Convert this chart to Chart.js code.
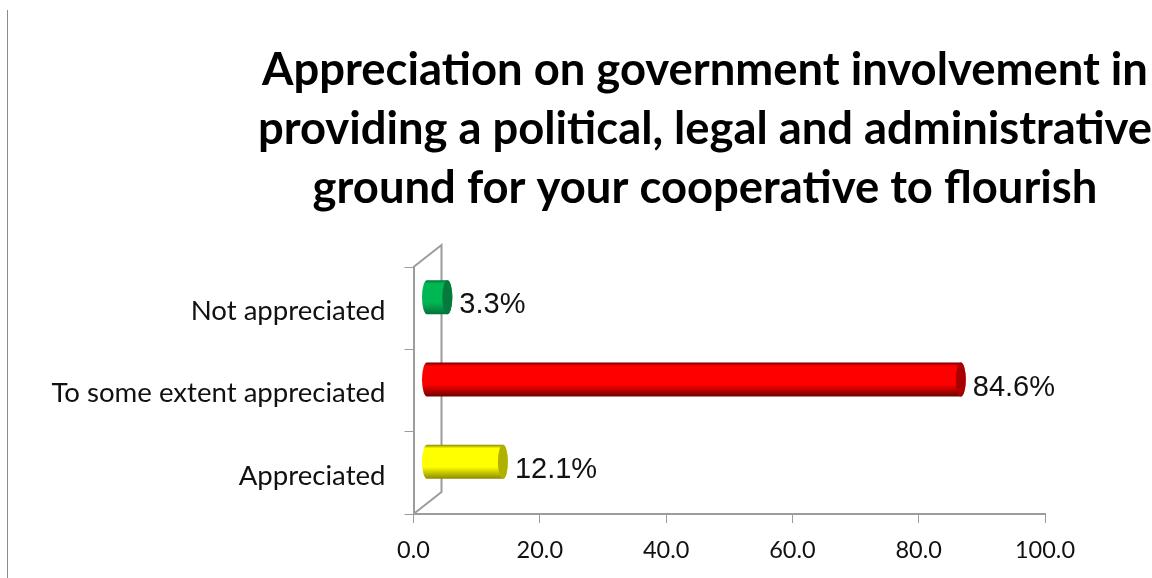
<!DOCTYPE html>
<html lang="en">
<head>
    <meta charset="UTF-8">
    <title>Appreciation on government involvement</title>
    <script src="https://cdn.jsdelivr.net/npm/chart.js"></script>
    <style>
        html, body { margin: 0; background: #fff; overflow: hidden; }
        #rule { position: absolute; left: 7px; top: 10px; width: 1px; height: 568px; background: #8c8c8c; }
        canvas { display: block; }
    </style>
</head>
<body>
    <div id="rule"></div>
    <canvas id="chart" width="1152" height="578"></canvas>

    <script>
        const categories = ['Not appreciated', 'To some extent appreciated', 'Appreciated'];
        const percentages = [3.3, 84.6, 12.1];
        const titleLines = [
            'Appreciation on government involvement in',
            'providing a political, legal and administrative',
            'ground for your cooperative to flourish'
        ];

        // body colour, then the darker end cap, per bar
        const barColors = ['#00b853', '#ff0000', '#ffff00'];
        const capColors = ['#067a3c', '#a80000', '#b0b000'];
        const edgeColors = ['#04713a', '#6e0000', '#8a8a00'];

        const axisColor = '#9c9c9c';
        const depthX = 28;   // floor depth of the 3D box
        const depthY = 22;

        // Title is centred over its own span rather than the whole canvas
        const titleSpan = {
            id: 'titleSpan',
            afterLayout(chart) {
                chart.titleBlock.left = 258;
                chart.titleBlock.right = 1152;
            }
        };

        // Back wall and floor edges of the 3D box
        const box = {
            id: 'box',
            beforeDatasetsDraw(chart) {
                const { ctx, chartArea: a } = chart;
                ctx.save();
                ctx.strokeStyle = axisColor;
                ctx.lineWidth = 2;
                ctx.beginPath();
                ctx.moveTo(a.left, a.top);
                ctx.lineTo(a.left + depthX, a.top - depthY);
                ctx.lineTo(a.left + depthX, a.bottom - depthY);
                ctx.lineTo(a.left, a.bottom);
                ctx.stroke();
                ctx.restore();
            }
        };

        // Bars are drawn as cylinders from the geometry Chart.js worked out
        const cylinders = {
            id: 'cylinders',
            beforeDatasetDraw() {
                return false;
            },
            afterDatasetsDraw(chart) {
                const { ctx } = chart;
                const meta = chart.getDatasetMeta(0);
                meta.data.forEach((bar, i) => {
                    const h = bar.height;
                    const top = bar.y - depthY / 2 - h / 2;
                    const start = bar.base + depthX / 2 - 1;
                    const end = bar.x + depthX / 2 - 1;
                    const rx = 5;
                    const cy = top + h / 2;

                    const grad = ctx.createLinearGradient(0, top, 0, top + h);
                    grad.addColorStop(0, edgeColors[i]);
                    grad.addColorStop(0.1, barColors[i]);
                    grad.addColorStop(0.65, barColors[i]);
                    grad.addColorStop(1, edgeColors[i]);

                    ctx.save();
                    ctx.fillStyle = grad;
                    ctx.beginPath();
                    ctx.ellipse(start, cy, rx, h / 2, 0, Math.PI / 2, Math.PI * 1.5);
                    ctx.lineTo(end, top);
                    ctx.ellipse(end, cy, rx, h / 2, 0, -Math.PI / 2, Math.PI / 2);
                    ctx.closePath();
                    ctx.fill();

                    ctx.fillStyle = capColors[i];
                    ctx.beginPath();
                    ctx.ellipse(end, cy, rx, h / 2, 0, 0, Math.PI * 2);
                    ctx.fill();

                    // value label
                    ctx.fillStyle = '#111';
                    ctx.font = '29px "Liberation Sans"';
                    ctx.textAlign = 'left';
                    ctx.textBaseline = 'middle';
                    ctx.fillText(percentages[i].toFixed(1) + '%', end + rx + 7, cy + 8);
                    ctx.restore();
                });
            }
        };

        new Chart(document.getElementById('chart').getContext('2d'), {
            type: 'bar',
            data: {
                labels: categories,
                datasets: [{
                    data: percentages,
                    backgroundColor: barColors,
                    barThickness: 34
                }]
            },
            options: {
                indexAxis: 'y',
                responsive: false,
                animation: false,
                layout: { padding: { right: 107, left: 0, top: 0, bottom: 0 } },
                plugins: {
                    legend: { display: false },
                    tooltip: { enabled: false },
                    title: {
                        display: true,
                        text: titleLines,
                        color: '#000',
                        font: { family: 'Lato', weight: 'bold', size: 45.4, lineHeight: 1.3 },
                        padding: { top: 41, bottom: 49 }
                    }
                },
                scales: {
                    x: {
                        min: 0,
                        max: 100,
                        afterFit(scale) { scale.height = 64; },
                        ticks: {
                            stepSize: 20,
                            padding: 13,
                            color: '#111',
                            font: { family: 'Lato', size: 23.5 },
                            maxRotation: 0,
                            callback: value => value.toFixed(1)
                        },
                        grid: { drawOnChartArea: false, color: axisColor, tickLength: 9 },
                        border: { color: axisColor, width: 2 }
                    },
                    y: {
                        afterFit(scale) { scale.width = 413.5; },
                        ticks: {
                            padding: 19,
                            color: '#111',
                            // blank first line nudges the label down a few px
                            font: { family: 'Lato', size: 27.6, lineHeight: 0.2 },
                            callback: (value, i) => ['', categories[i]]
                        },
                        grid: { drawOnChartArea: false, offset: true, color: axisColor, tickLength: 9 },
                        border: { color: axisColor, width: 2 }
                    }
                }
            },
            plugins: [titleSpan, box, cylinders]
        });
    </script>
</body>
</html>
